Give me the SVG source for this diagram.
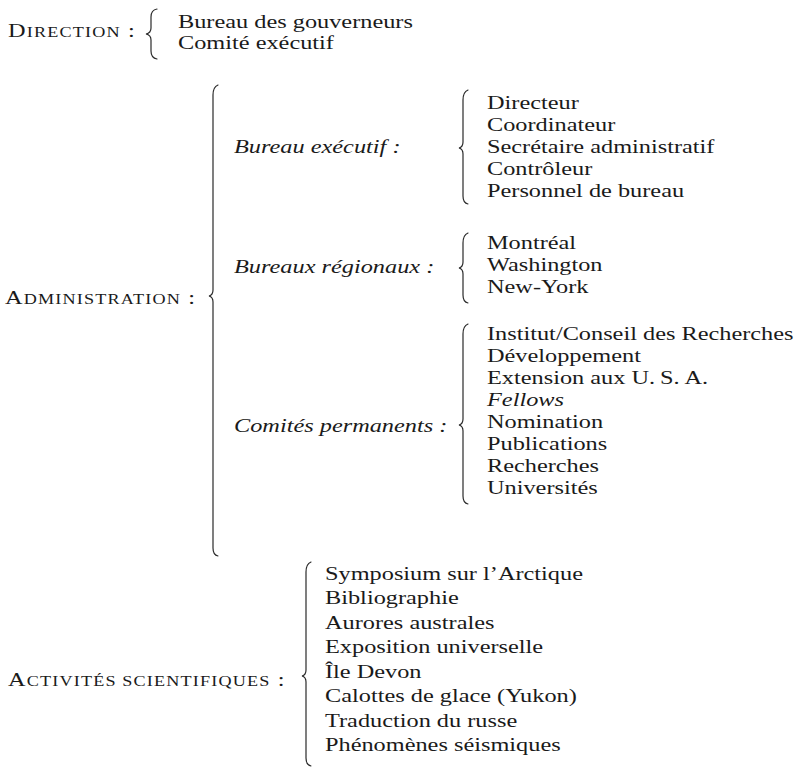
<svg xmlns="http://www.w3.org/2000/svg" width="801" height="769" viewBox="0 0 801 769">
<style>
text{font-family:"Liberation Serif","Times New Roman",serif;font-size:19px;fill:#1a1a1a}
.it{font-style:italic}
.lab{letter-spacing:0.9px}
.sc{font-size:14.2px}
.br{fill:none;stroke:#2a2a2a;stroke-width:1.2;stroke-linecap:round}
</style>
<rect width="801" height="769" fill="#fff"/>
<g id="direction">
<text class="lab" transform="translate(8 37) scale(1.28 1)">D<tspan class="sc">IRECTION</tspan> :</text>
<g transform="translate(178 0) scale(1.28 1)">
<text y="28">Bureau des gouverneurs</text>
<text y="49">Comité exécutif</text>
</g>
</g>
<g id="administration">
<text class="lab" transform="translate(5 304) scale(1.28 1)">A<tspan class="sc">DMINISTRATION</tspan> :</text>
</g>
<g id="bureau-executif">
<text class="it" transform="translate(234 153) scale(1.28 1)">Bureau exécutif :</text>
<g transform="translate(487 0) scale(1.28 1)">
<text y="109">Directeur</text>
<text y="131">Coordinateur</text>
<text y="153">Secrétaire administratif</text>
<text y="175">Contrôleur</text>
<text y="197">Personnel de bureau</text>
</g>
</g>
<g id="bureaux-regionaux">
<text class="it" transform="translate(234 273) scale(1.28 1)">Bureaux régionaux :</text>
<g transform="translate(487 0) scale(1.28 1)">
<text y="249">Montréal</text>
<text y="271">Washington</text>
<text y="293">New-York</text>
</g>
</g>
<g id="comites-permanents">
<text class="it" transform="translate(234 432) scale(1.28 1)">Comités permanents :</text>
<g transform="translate(487 0) scale(1.28 1)">
<text y="340">Institut/Conseil des Recherches</text>
<text y="362">Développement</text>
<text y="384">Extension aux U.&#8201;S.&#8201;A.</text>
<text class="it" y="406">Fellows</text>
<text y="428">Nomination</text>
<text y="450">Publications</text>
<text y="472">Recherches</text>
<text y="494">Universités</text>
</g>
</g>
<g id="activites-scientifiques">
<text class="lab" transform="translate(8 686) scale(1.28 1)">A<tspan class="sc">CTIVITÉS SCIENTIFIQUES</tspan> :</text>
<g transform="translate(325 0) scale(1.28 1)">
<text y="580">Symposium sur l’Arctique</text>
<text y="604.5">Bibliographie</text>
<text y="629">Aurores australes</text>
<text y="653.5">Exposition universelle</text>
<text y="678">Île Devon</text>
<text y="702.5">Calottes de glace (Yukon)</text>
<text y="727">Traduction du russe</text>
<text y="751.5">Phénomènes séismiques</text>
</g>
</g>
<g id="connectors">
<path class="br" d="M157,9 Q151,10 151,17 L151,28 Q151,33 146,34 Q151,35 151,40 L151,51 Q151,58 157,59"/>
<path class="br" d="M218,85 Q213,87 213,95 L213,290 Q213,295 209,296 Q213,297 213,302 L213,548 Q213,555 218,556"/>
<path class="br" d="M468,90 Q463,92 463,100 L463,142 Q463,147 459,148 Q463,149 463,154 L463,196 Q463,203 468,204"/>
<path class="br" d="M468,233 Q463,235 463,243 L463,262 Q463,267 459,268 Q463,269 463,274 L463,295 Q463,302 468,303"/>
<path class="br" d="M468,324 Q463,326 463,334 L463,419 Q463,424 459,425 Q463,426 463,431 L463,496 Q463,503 468,504"/>
<path class="br" d="M311,562 Q306,564 306,572 L306,670 Q306,675 302,676 Q306,677 306,682 L306,758 Q306,765 311,766"/>
</g>
</svg>
